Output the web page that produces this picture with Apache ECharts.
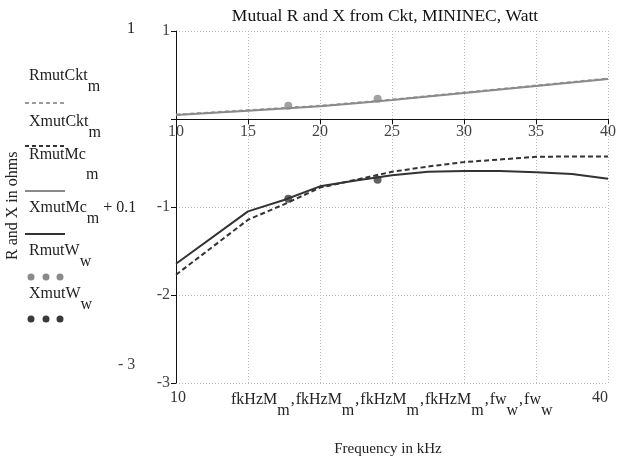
<!DOCTYPE html>
<html>
<head>
<meta charset="utf-8">
<script src="https://cdn.jsdelivr.net/npm/echarts@6/dist/echarts.min.js"></script>
<style>
  html, body { margin: 0; padding: 0; background: #fff; }
  #chart { width: 620px; height: 464px; }
</style>
</head>
<body>
<div id="chart"></div>
<script>
// Frequency samples (kHz) for the circuit-model and MININEC runs
const fkHzM = [10, 15, 17.5, 20, 22.5, 25, 27.5, 30, 32.5, 35, 37.5, 40];
// Mutual resistance / reactance from the circuit model (ohms)
const RmutCkt = [0.05, 0.10, 0.125, 0.15, 0.185, 0.22, 0.26, 0.30, 0.34, 0.38, 0.42, 0.46];
const XmutCkt = [-1.77, -1.145, -0.97, -0.78, -0.69, -0.60, -0.54, -0.49, -0.46, -0.43, -0.425, -0.425];
// Mutual resistance / reactance from MININEC (ohms)
const RmutMc = [0.045, 0.095, 0.12, 0.145, 0.18, 0.215, 0.255, 0.295, 0.335, 0.375, 0.415, 0.455];
const XmutMc = [-1.745, -1.15, -1.02, -0.865, -0.80, -0.74, -0.70, -0.69, -0.69, -0.705, -0.725, -0.78];
const mcOffset = 0.1; // MININEC reactance is plotted shifted by +0.1
// Watt measurements
const fw = [17.8, 24.0];
const RmutW = [0.15, 0.23];
const XmutW = [-0.905, -0.69];
// Axis ticks
const xTicks = [10, 15, 20, 25, 30, 35, 40];
const yTickLabels = { '1': '1', '-1': '-1', '-2': '-2', '-3': '-3' };

const SERIF = '"Liberation Serif", "DejaVu Serif", serif';
const GRAY_R = '#8a8a8a';
const DARK_X = '#333333';
const GRID_LINE = { color: '#b8b8b8', type: [1, 2], width: 1 };

function pairs(xs, ys, off) {
  return xs.map((x, i) => [x, ys[i] + (off || 0)]);
}

const chart = echarts.init(document.getElementById('chart'), null, { renderer: 'canvas' });

const rich = {
  b: { fontFamily: SERIF, fontSize: 16, color: '#222', lineHeight: 18, verticalAlign: 'top' },
  c: { fontFamily: SERIF, fontSize: 16, color: '#222', lineHeight: 18, verticalAlign: 'top', padding: [0, 1, 0, 1] },
  s: { fontFamily: SERIF, fontSize: 16, color: '#222', lineHeight: 18, verticalAlign: 'top', padding: [11, 0, 0, 0] },
  s2: { fontFamily: SERIF, fontSize: 16, color: '#222', lineHeight: 18, verticalAlign: 'top', padding: [20, 0, 0, 0] }
};

function label(x, y, text, fill) {
  return {
    type: 'text', left: x, top: y,
    style: { text: text, rich: rich, fontFamily: SERIF, fontSize: 16, fill: fill || '#222' }
  };
}
function sample(y, color, dash) {
  return {
    type: 'line',
    shape: { x1: 25, y1: y, x2: 65, y2: y },
    style: { stroke: color, lineWidth: 2, lineDash: dash || null }
  };
}
function dots(y, color) {
  return [31, 46, 60].map(x => ({
    type: 'circle', shape: { cx: x, cy: y, r: 3.5 }, style: { fill: color }
  }));
}

const sub = (main, s) => `{b|${main}}{s|${s}}`;
const bottomText = [
  sub('fkHzM', 'm'), '{c|,}', sub('fkHzM', 'm'), '{c|,}', sub('fkHzM', 'm'), '{c|,}',
  sub('fkHzM', 'm'), '{c|,}', sub('fw', 'w'), '{c|,}', sub('fw', 'w')
].join('');

chart.setOption({
  animation: false,
  backgroundColor: '#fff',
  title: {
    text: 'Mutual R and X from Ckt, MININEC, Watt',
    left: 380, top: 2, textAlign: 'center',
    textStyle: { fontFamily: SERIF, fontSize: 17.5, fontWeight: 'normal', color: '#111' }
  },
  grid: [
    // full plotting area, -3 .. 1
    { left: 176, right: 12, top: 31, bottom: 81, containLabel: false },
    // upper band, 0 .. 1, carrying the frequency scale on the zero line
    { left: 176, right: 12, top: 31, height: 88, containLabel: false }
  ],
  xAxis: [
    {
      gridIndex: 0, type: 'value', min: 10, max: 40, interval: 5,
      axisLine: { show: false },
      axisTick: { show: false },
      axisLabel: { show: false },
      splitLine: { show: true, lineStyle: GRID_LINE }
    },
    {
      gridIndex: 1, type: 'value', min: 10, max: 40, interval: 5,
      axisLine: { show: true, onZero: false, lineStyle: { color: '#111', width: 1 } },
      axisTick: { show: true, length: 5, lineStyle: { color: '#111' } },
      axisLabel: {
        fontFamily: SERIF, fontSize: 16, color: '#444', margin: 5,
        formatter: v => xTicks.includes(v) ? String(v) : ''
      },
      splitLine: { show: false }
    }
  ],
  yAxis: [
    {
      gridIndex: 0, type: 'value', min: -3, max: 1, interval: 1,
      axisLine: { show: true, onZero: false, lineStyle: { color: '#111', width: 1 } },
      axisTick: { show: true, length: 5, lineStyle: { color: '#111' } },
      axisLabel: {
        fontFamily: SERIF, fontSize: 16, color: '#444', margin: 6,
        formatter: v => yTickLabels[String(v)] || ''
      },
      splitLine: { show: true, lineStyle: GRID_LINE }
    },
    { gridIndex: 1, type: 'value', min: 0, max: 1, show: false }
  ],
  series: [
    { name: 'RmutCkt', type: 'line', data: pairs(fkHzM, RmutCkt), symbol: 'none',
      lineStyle: { color: '#9a9a9a', width: 2, type: [4, 3] } },
    { name: 'XmutCkt', type: 'line', data: pairs(fkHzM, XmutCkt), symbol: 'none',
      lineStyle: { color: DARK_X, width: 2, type: [5, 3] } },
    { name: 'RmutMc', type: 'line', data: pairs(fkHzM, RmutMc), symbol: 'none',
      lineStyle: { color: GRAY_R, width: 2 } },
    { name: 'XmutMc + 0.1', type: 'line', data: pairs(fkHzM, XmutMc, mcOffset), symbol: 'none',
      lineStyle: { color: DARK_X, width: 2 } },
    { name: 'RmutW', type: 'scatter', data: pairs(fw, RmutW), symbolSize: 8,
      itemStyle: { color: GRAY_R } },
    { name: 'XmutW', type: 'scatter', data: pairs(fw, XmutW), symbolSize: 8,
      itemStyle: { color: '#3a3a3a' } }
  ],
  graphic: [
    // y-axis title, reading upward
    { type: 'text', x: 5, y: 260, rotation: Math.PI / 2,
      style: { text: 'R and X in ohms', fontFamily: SERIF, fontSize: 16, fill: '#222' } },
    // range markers
    label(127, 21, '1'),
    label(118, 357, '- 3', '#444'),
    // legend block
    label(29, 68, sub('RmutCkt', 'm')),
    sample(103, '#9a9a9a', [4, 3]),
    label(29, 114, sub('XmutCkt', 'm')),
    sample(146, DARK_X, [4, 3]),
    label(29, 147, '{b|RmutMc}{s2|m}'),
    sample(191, GRAY_R),
    label(29, 200, '{b|XmutMc}{s|m}{b| + 0.1}'),
    sample(234, DARK_X),
    label(29, 243, sub('RmutW', 'w')),
    ...dots(277, GRAY_R),
    label(29, 286, sub('XmutW', 'w')),
    ...dots(319, '#3a3a3a'),
    // bottom axis annotations
    label(170, 390, '10', '#333'),
    label(592, 390, '40', '#333'),
    label(231, 392, bottomText),
    { type: 'text', x: 388, y: 442,
      style: { text: 'Frequency in kHz', fontFamily: SERIF, fontSize: 15, fill: '#222', align: 'center' } }
  ]
});
</script>
</body>
</html>
